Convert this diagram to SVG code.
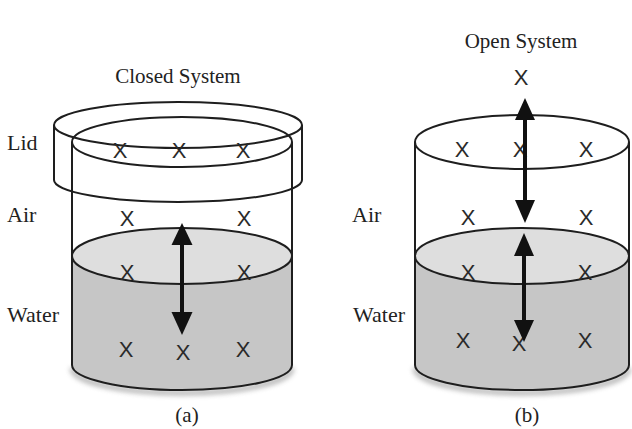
<svg xmlns="http://www.w3.org/2000/svg" width="632" height="429" viewBox="0 0 632 429">
  <defs>
    <style>
      .lbl { font-family: "Liberation Serif", "Times New Roman", serif; font-size: 22px; fill: #222; }
      .ttl { font-family: "Liberation Serif", "Times New Roman", serif; font-size: 21px; fill: #222; text-anchor: middle; }
      .mol { font-family: "Liberation Sans", Arial, sans-serif; font-size: 22px; fill: #2a2a2a; text-anchor: middle; }
      .edge { fill: none; stroke: #1e1e1e; stroke-width: 2; }
      .water { fill: #c6c6c6; }
      .surface { fill: #dedede; stroke: #1e1e1e; stroke-width: 2; }
      .shadow { fill: none; stroke: #777; stroke-width: 5; opacity: 0.55; filter: url(#soft); }
      .shaft { stroke: #111; stroke-width: 4; fill: none; }
      .head { fill: #111; }
    </style>
    <filter id="soft" x="-10%" y="-50%" width="120%" height="200%">
      <feGaussianBlur stdDeviation="2.5"/>
    </filter>
  </defs>

  <!-- (a) closed system -->
  <g id="closed-system">
    <text class="ttl" x="178" y="83">Closed System</text>
    <!-- container: water body, surface, walls -->
    <path class="shadow" d="M72,368 A110,25 0 0 0 292,368"/>
    <path class="water" d="M72,256 L72,365 A110,25 0 0 0 292,365 L292,256 A110,28 0 0 1 72,256 Z"/>
    <ellipse class="surface" cx="182" cy="256" rx="110" ry="28"/>
    <path class="edge" d="M72,142 L72,365 A110,25 0 0 0 292,365 L292,142"/>
    <ellipse class="edge" cx="182" cy="142" rx="110" ry="25"/>
    <!-- lid -->
    <g id="lid">
      <ellipse class="edge" cx="178" cy="125" rx="124" ry="23"/>
      <path class="edge" d="M54,125 L54,180 A124,22 0 0 0 302,180 L302,125"/>
    </g>
  </g>

  <!-- (b) open system -->
  <g id="open-system">
    <text class="ttl" x="521" y="48">Open System</text>
    <path class="shadow" d="M415,368 A107,25 0 0 0 629,368"/>
    <path class="water" d="M415,256 L415,365 A107,25 0 0 0 629,365 L629,256 A107,28 0 0 1 415,256 Z"/>
    <ellipse class="surface" cx="522" cy="256" rx="107" ry="28"/>
    <path class="edge" d="M415,142 L415,365 A107,25 0 0 0 629,365 L629,142"/>
    <ellipse class="edge" cx="522" cy="142" rx="107" ry="27"/>
  </g>

  <!-- molecules -->
  <g id="molecules-a">
    <text class="mol" x="120" y="158">X</text>
    <text class="mol" x="179" y="158">X</text>
    <text class="mol" x="243" y="158">X</text>
    <text class="mol" x="127" y="226">X</text>
    <text class="mol" x="244" y="226">X</text>
    <text class="mol" x="127" y="280">X</text>
    <text class="mol" x="244" y="280">X</text>
    <text class="mol" x="126" y="357">X</text>
    <text class="mol" x="183" y="360">X</text>
    <text class="mol" x="243" y="357">X</text>
  </g>
  <g id="molecules-b">
    <text class="mol" x="521" y="85">X</text>
    <text class="mol" x="462" y="157">X</text>
    <text class="mol" x="520" y="157">X</text>
    <text class="mol" x="586" y="157">X</text>
    <text class="mol" x="468" y="225">X</text>
    <text class="mol" x="586" y="225">X</text>
    <text class="mol" x="468" y="280">X</text>
    <text class="mol" x="585" y="280">X</text>
    <text class="mol" x="463" y="348">X</text>
    <text class="mol" x="519" y="351">X</text>
    <text class="mol" x="585" y="348">X</text>
  </g>

  <!-- exchange arrows -->
  <g id="connectors">
    <line class="shaft" x1="182" y1="240" x2="182" y2="318"/>
    <path class="head" d="M182,223 L192.5,245 L171.5,245 Z"/>
    <path class="head" d="M182,335 L192.5,312 L171.5,312 Z"/>

    <line class="shaft" x1="525" y1="112" x2="525" y2="206"/>
    <path class="head" d="M525,98 L535,120 L515,120 Z"/>
    <path class="head" d="M525,223 L535,200 L515,200 Z"/>

    <line class="shaft" x1="524" y1="248" x2="524" y2="326"/>
    <path class="head" d="M524,233 L534,256 L514,256 Z"/>
    <path class="head" d="M524,342 L534,320 L514,320 Z"/>
  </g>

  <!-- phase labels -->
  <g id="labels">
    <text class="lbl" x="7" y="150">Lid</text>
    <text class="lbl" x="7" y="222">Air</text>
    <text class="lbl" x="7" y="322">Water</text>
    <text class="lbl" x="352" y="222">Air</text>
    <text class="lbl" x="353" y="322">Water</text>
    <text class="ttl" x="187" y="422">(a)</text>
    <text class="ttl" x="527" y="422">(b)</text>
  </g>
</svg>
